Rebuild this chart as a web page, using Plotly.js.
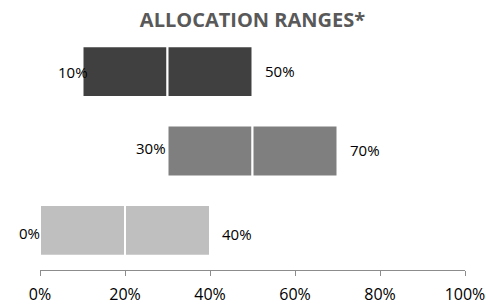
<!DOCTYPE html>
<html>
<head>
<meta charset="utf-8">
<script src="https://cdn.plot.ly/plotly-3.0.1.min.js"></script>
<style>html,body{margin:0;padding:0;background:#fff;}#chart{width:486px;height:304px;}</style>
</head>
<body>
<div id="chart"></div>
<script>
// Data
const categories = ['C', 'B', 'A'];          // bottom to top
const lowValues  = [0, 30, 10];               // range start (%)
const highValues = [40, 70, 50];              // range end (%)
const barColors  = ['#bfbfbf', '#7f7f7f', '#404040'];
const xTickVals  = [0, 20, 40, 60, 80, 100];
const xTickText  = ['0%', '20%', '40%', '60%', '80%', '100%'];
const chartTitle = 'ALLOCATION RANGES*';

const mids = lowValues.map((l, i) => (l + highValues[i]) / 2);
const halfLow = lowValues.map((l, i) => mids[i] - l);
const halfHigh = highValues.map((h, i) => h - mids[i]);

const font = "'Open Sans', 'Liberation Sans', sans-serif";

const traces = [
  {
    type: 'bar', orientation: 'h', y: categories, x: halfLow, base: lowValues,
    marker: {color: barColors, line: {color: '#ffffff', width: 2}},
    hoverinfo: 'skip', showlegend: false
  },
  {
    type: 'bar', orientation: 'h', y: categories, x: halfHigh, base: mids,
    marker: {color: barColors, line: {color: '#ffffff', width: 2}},
    hoverinfo: 'skip', showlegend: false
  }
];

const leftShift = [2, 0, 7];
const leftY = [-3, 3, 0];
const rightY = [-5, 0, 0];
const annotations = [];
categories.forEach((c, i) => {
  annotations.push({
    x: lowValues[i], y: c, xref: 'x', yref: 'y', text: lowValues[i] + '%',
    showarrow: false, xanchor: 'right', yanchor: 'middle', xshift: leftShift[i], yshift: leftY[i],
    font: {family: font, size: 15, color: '#000000'}
  });
  annotations.push({
    x: highValues[i], y: c, xref: 'x', yref: 'y', text: highValues[i] + '%',
    showarrow: false, xanchor: 'left', yanchor: 'middle', xshift: 10, yshift: rightY[i] + 1,
    font: {family: font, size: 15, color: '#000000'}
  });
});

const layout = {
  width: 486, height: 304,
  margin: {l: 40, r: 21, t: 32, b: 34, pad: 0},
  paper_bgcolor: '#ffffff', plot_bgcolor: '#ffffff',
  barmode: 'overlay', bargap: 0.36,
  title: {
    text: '<b>' + chartTitle + '</b>', x: 0.5, xref: 'paper', xanchor: 'center',
    y: 0.935, yref: 'container', yanchor: 'middle',
    font: {family: font, size: 20, color: '#595959'}
  },
  xaxis: {
    range: [0, 100], tickvals: xTickVals, ticktext: xTickText,
    showgrid: false, zeroline: false, showline: true, linecolor: '#8c8c8c', linewidth: 1,
    ticks: 'outside', ticklen: 5, tickcolor: '#8c8c8c', tickwidth: 1,
    ticklabelstandoff: 5, ticklabeloverflow: 'allow',
    tickfont: {family: font, size: 16, color: '#000000'}, fixedrange: true
  },
  yaxis: {
    type: 'category', range: [-0.5, 2.5], showticklabels: false, showgrid: false,
    zeroline: false, showline: false, ticks: '', fixedrange: true
  },
  annotations: annotations,
  font: {family: font}
};

Plotly.newPlot('chart', traces, layout, {displayModeBar: false, staticPlot: true});
</script>
</body>
</html>
